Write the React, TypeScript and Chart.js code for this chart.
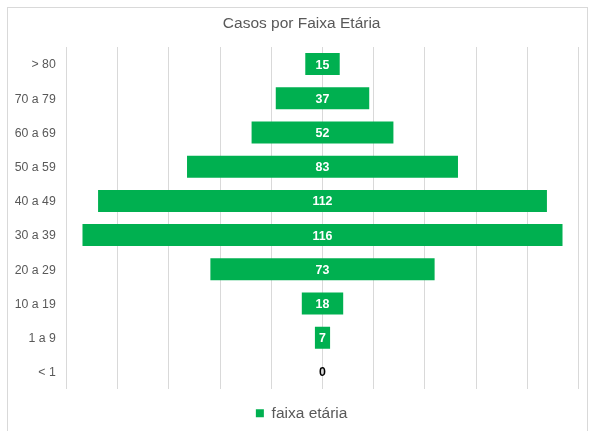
import { useEffect, useRef } from "react";
import { Chart, registerables } from "chart.js";

Chart.register(...registerables);

const titleText = "Casos por Faixa Etária";
const seriesLabel = "faixa etária";
const ageGroups = ["> 80", "70 a 79", "60 a 69", "50 a 59", "40 a 49", "30 a 39", "20 a 29", "10 a 19", "1 a 9", "< 1"];
const caseCounts = [15, 37, 52, 83, 112, 116, 73, 18, 7, 0];
// half length of each centred bar, in axis units
const barHalfWidths = [8.4, 22.8, 34.6, 66.1, 109.5, 117.1, 54.7, 10.1, 3.7, 0];
const axisMin = -125;
const axisMax = 125;
const axisStep = 25;

const FONT = "'Liberation Sans', Arial, sans-serif";
const GREEN = "#00B050";
const GREY_TEXT = "#595959";
const GRID = "#D9D9D9";

const valueLabels = {
  id: "valueLabels",
  afterDatasetsDraw(chart: any) {
    const ctx = chart.ctx;
    const meta = chart.getDatasetMeta(0);
    ctx.save();
    ctx.font = `bold 12.4px ${FONT}`;
    ctx.textAlign = "center";
    ctx.textBaseline = "middle";
    meta.data.forEach((el: any, i: number) => {
      const { x, y, base } = el.getProps(["x", "y", "base"], true);
      const v = caseCounts[i];
      ctx.fillStyle = v > 0 ? "#FFFFFF" : "#000000";
      ctx.fillText(String(v), (x + base) / 2, y + 1);
    });
    ctx.restore();
  },
};

export default function App() {
  const canvasRef = useRef<HTMLCanvasElement | null>(null);

  useEffect(() => {
    const canvas = canvasRef.current;
    if (!canvas) return;
    const chart = new Chart(canvas, {
      type: "bar",
      data: {
        labels: ageGroups,
        datasets: [
          {
            label: seriesLabel,
            data: barHalfWidths.map((h) => [-h, h]) as any,
            backgroundColor: GREEN,
            borderWidth: 0,
            barPercentage: 0.643,
            categoryPercentage: 1,
          },
        ],
      },
      options: {
        indexAxis: "y",
        responsive: false,
        animation: false,
        devicePixelRatio: 1,
        layout: { padding: { left: 10.3, right: 0, top: 0, bottom: 0 } },
        scales: {
          x: {
            type: "linear",
            min: axisMin,
            max: axisMax,
            ticks: { display: false, stepSize: axisStep },
            grid: { color: GRID, lineWidth: 1, drawTicks: false },
            border: { display: false },
          },
          y: {
            type: "category",
            position: "left",
            ticks: { color: GREY_TEXT, font: { family: FONT, size: 12.3 }, padding: 10.5, labelOffset: 1 },
            grid: { display: false, drawTicks: false },
            border: { display: false },
            afterFit: (s: any) => {
              s.width = 56;
            },
          },
          yR: {
            type: "linear",
            position: "right",
            display: true,
            ticks: { display: false },
            grid: { display: false, drawTicks: false },
            border: { display: false },
            afterFit: (s: any) => {
              s.width = 14.3;
            },
          },
        },
        plugins: {
          title: {
            display: true,
            text: titleText,
            color: GREY_TEXT,
            font: { family: FONT, size: 15.5, weight: "normal" },
            padding: { top: 14.5, bottom: 13.9 },
          },
          legend: {
            display: true,
            position: "bottom",
            labels: {
              boxWidth: 8,
              boxHeight: 8,
              padding: 16.5,
              color: GREY_TEXT,
              font: { family: FONT, size: 15.5 },
            },
          },
          tooltip: { enabled: false },
        },
      },
      plugins: [valueLabels],
    });
    return () => chart.destroy();
  }, []);

  return (
    <div style={{ position: "absolute", left: 0, top: 0, width: 593, height: 431, overflow: "hidden", background: "#fff" }}>
      <div
        style={{
          position: "absolute",
          left: 7,
          top: 7,
          width: 579,
          height: 440,
          border: `1px solid ${GRID}`,
          boxSizing: "content-box",
        }}
      />
      <canvas
        ref={canvasRef}
        width={593}
        height={431}
        style={{ position: "absolute", left: 0, top: 0, width: 593, height: 431 }}
      />
    </div>
  );
}
